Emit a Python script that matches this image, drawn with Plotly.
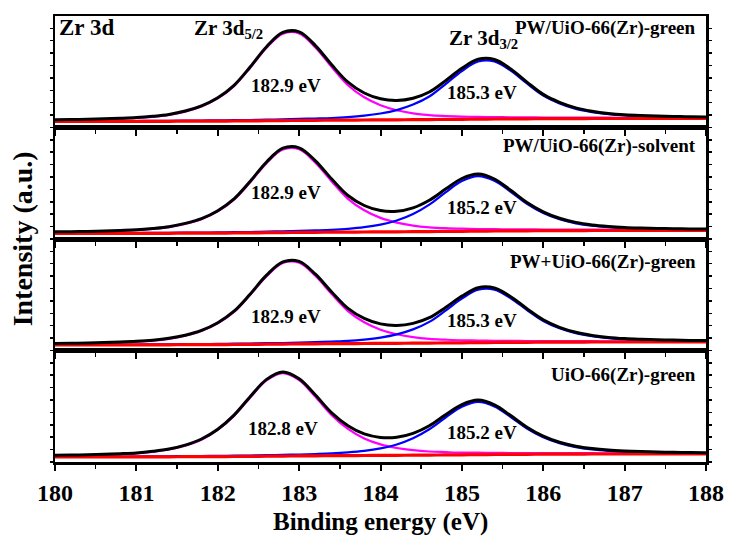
import plotly.graph_objects as go
from plotly.subplots import make_subplots

# ---------------- data ----------------
# binding-energy grid, eV
energy = [round(180 + 0.2 * i, 1) for i in range(41)]

sample_names = ["PW/UiO-66(Zr)-green", "PW/UiO-66(Zr)-solvent",
                "PW+UiO-66(Zr)-green", "UiO-66(Zr)-green"]
peak1_labels = ["182.9 eV", "182.9 eV", "182.9 eV", "182.8 eV"]
peak2_labels = ["185.3 eV", "185.2 eV", "185.3 eV", "185.2 eV"]
x_ticks = [180, 181, 182, 183, 184, 185, 186, 187, 188]
x_tick_labels = ["180", "181", "182", "183", "184", "185", "186", "187", "188"]

# Shirley-type background (a.u.)
background_1 = [6.0, 6.0, 6.0, 6.1, 6.1, 6.1, 6.2, 6.2, 6.3, 6.3, 6.4, 6.5, 6.6, 6.8,
                6.9, 7.1, 7.2, 7.3, 7.4, 7.5, 7.6, 7.7, 7.8, 7.9, 8.1, 8.2, 8.4, 8.5,
                8.6, 8.7, 8.8, 8.9, 8.9, 9.0, 9.0, 9.0, 9.0, 9.0, 9.0, 9.0, 9.0]
background_2 = [5.5, 5.5, 5.5, 5.6, 5.6, 5.6, 5.7, 5.7, 5.8, 5.8, 5.9, 6.0, 6.1, 6.3,
                6.4, 6.6, 6.7, 6.8, 6.9, 7.0, 7.1, 7.2, 7.3, 7.4, 7.6, 7.7, 7.9, 8.0,
                8.1, 8.2, 8.3, 8.4, 8.4, 8.5, 8.5, 8.5, 8.5, 8.5, 8.5, 8.5, 8.5]
background_3 = [5.5, 5.5, 5.5, 5.6, 5.6, 5.6, 5.7, 5.7, 5.8, 5.8, 5.9, 6.0, 6.1, 6.3,
                6.4, 6.6, 6.7, 6.8, 6.9, 7.0, 7.1, 7.2, 7.3, 7.4, 7.6, 7.7, 7.9, 8.0,
                8.1, 8.2, 8.3, 8.4, 8.4, 8.5, 8.5, 8.5, 8.5, 8.5, 8.5, 8.5, 8.5]
background_4 = [5.0, 5.0, 5.0, 5.1, 5.1, 5.1, 5.2, 5.2, 5.3, 5.3, 5.4, 5.5, 5.6, 5.8,
                5.9, 6.1, 6.2, 6.3, 6.4, 6.5, 6.6, 6.7, 6.8, 6.9, 7.1, 7.2, 7.4, 7.5,
                7.6, 7.7, 7.8, 7.9, 7.9, 8.0, 8.0, 8.0, 8.0, 8.0, 8.0, 8.0, 8.0]

# Zr 3d5/2 component above background (a.u.)
zr52_1 = [1.4, 1.6, 1.9, 2.2, 2.7, 3.4, 4.5, 6.4, 9.6, 14.7, 22.7, 34.9, 53.2, 72.9,
          87.0, 87.0, 72.9, 53.2, 34.9, 22.7, 14.7, 9.6, 6.4, 4.5, 3.4, 2.7, 2.2, 1.9,
          1.6, 1.4, 1.2, 1.1, 1.0, 0.9, 0.8, 0.7, 0.7, 0.6, 0.6, 0.5, 0.5]
zr52_2 = [1.4, 1.5, 1.8, 2.1, 2.6, 3.2, 4.3, 6.1, 9.2, 14.0, 21.7, 33.3, 50.8, 69.6,
          83.1, 83.1, 69.6, 50.8, 33.3, 21.7, 14.0, 9.2, 6.1, 4.3, 3.2, 2.6, 2.1, 1.8,
          1.5, 1.4, 1.2, 1.1, 0.9, 0.8, 0.8, 0.7, 0.6, 0.6, 0.5, 0.5, 0.5]
zr52_3 = [1.3, 1.5, 1.7, 2.1, 2.5, 3.2, 4.2, 6.0, 9.0, 13.7, 21.2, 32.5, 49.6, 68.0,
          81.1, 81.1, 68.0, 49.6, 32.5, 21.2, 13.7, 9.0, 6.0, 4.2, 3.2, 2.5, 2.1, 1.7,
          1.5, 1.3, 1.2, 1.0, 0.9, 0.8, 0.7, 0.7, 0.6, 0.6, 0.5, 0.5, 0.4]
zr52_4 = [1.4, 1.6, 1.9, 2.2, 2.8, 3.6, 5.0, 7.3, 11.0, 17.0, 26.7, 40.6, 59.0, 75.8,
          83.0, 75.8, 59.0, 40.6, 26.7, 17.0, 11.0, 7.3, 5.0, 3.6, 2.8, 2.2, 1.9, 1.6,
          1.4, 1.3, 1.1, 1.0, 0.9, 0.8, 0.7, 0.7, 0.6, 0.6, 0.5, 0.5, 0.4]

# Zr 3d3/2 component above background (a.u.)
zr32_1 = [0.3, 0.3, 0.3, 0.4, 0.4, 0.4, 0.5, 0.5, 0.6, 0.7, 0.7, 0.8, 0.9, 1.1,
          1.2, 1.5, 1.8, 2.2, 3.0, 4.3, 6.4, 9.7, 15.1, 23.1, 35.3, 48.3, 57.6, 57.6,
          48.3, 35.3, 23.1, 15.1, 9.7, 6.4, 4.3, 3.0, 2.2, 1.8, 1.5, 1.2, 1.1]
zr32_2 = [0.3, 0.3, 0.3, 0.4, 0.4, 0.4, 0.5, 0.5, 0.6, 0.6, 0.7, 0.8, 0.9, 1.1,
          1.3, 1.5, 1.9, 2.4, 3.3, 4.8, 7.3, 11.3, 17.7, 27.0, 39.1, 50.2, 55.0, 50.2,
          39.1, 27.0, 17.7, 11.3, 7.3, 4.8, 3.3, 2.4, 1.9, 1.5, 1.3, 1.1, 0.9]
zr32_3 = [0.3, 0.3, 0.3, 0.3, 0.4, 0.4, 0.4, 0.5, 0.5, 0.6, 0.7, 0.8, 0.9, 1.0,
          1.1, 1.4, 1.6, 2.1, 2.7, 3.9, 5.8, 8.9, 13.8, 21.2, 32.3, 44.2, 52.8, 52.8,
          44.2, 32.3, 21.2, 13.8, 8.9, 5.8, 3.9, 2.7, 2.1, 1.6, 1.4, 1.1, 1.0]
zr32_4 = [0.3, 0.3, 0.3, 0.4, 0.4, 0.4, 0.5, 0.5, 0.6, 0.7, 0.7, 0.8, 0.9, 1.0,
          1.2, 1.4, 1.8, 2.3, 3.2, 4.6, 7.0, 10.8, 16.9, 25.8, 37.4, 48.0, 52.6, 48.0,
          37.4, 25.8, 16.9, 10.8, 7.0, 4.6, 3.2, 2.3, 1.8, 1.4, 1.2, 1.0, 0.9]

backgrounds = [background_1, background_2, background_3, background_4]
zr52 = [zr52_1, zr52_2, zr52_3, zr52_4]
zr32 = [zr32_1, zr32_2, zr32_3, zr32_4]

# ---------------- styling / layout ----------------
FONT = "Liberation Serif"
W, H = 736, 547
ML, MR, MT, MB = 55, 23, 16, 85
Y_TOP = 111.5
PLOT_W = W - ML - MR
PLOT_H = H - MT - MB


def bold(size):
    return dict(family=FONT, size=size, color="black", weight="bold")


# annotation placement per panel (x in eV, y in a.u.)
name_y = [99.5, 93.0, 88.5, 87.0]
lab1_pos = [(182.84, 42.5), (182.84, 47.0), (182.84, 34.5), (182.80, 34.0)]
lab2_pos = [(185.25, 35.5), (185.25, 32.0), (185.25, 30.5), (185.25, 30.0)]

fig = make_subplots(rows=4, cols=1, shared_xaxes=True, vertical_spacing=0)

for i in range(4):
    row = i + 1
    bg = backgrounds[i]
    c1 = [b + p for b, p in zip(bg, zr52[i])]
    c2 = [b + p for b, p in zip(bg, zr32[i])]
    env = [b + p + q for b, p, q in zip(bg, zr52[i], zr32[i])]
    fig.add_trace(go.Scatter(x=energy, y=c1, mode="lines",
                             line=dict(color="#FF00FF", width=2.2, shape="spline"),
                             showlegend=False, hoverinfo="skip"), row=row, col=1)
    fig.add_trace(go.Scatter(x=energy, y=c2, mode="lines",
                             line=dict(color="#0000FF", width=2.2, shape="spline"),
                             showlegend=False, hoverinfo="skip"), row=row, col=1)
    fig.add_trace(go.Scatter(x=energy, y=bg, mode="lines",
                             line=dict(color="#FF0000", width=3.2, shape="spline"),
                             showlegend=False, hoverinfo="skip"), row=row, col=1)
    fig.add_trace(go.Scatter(x=energy, y=env, mode="lines",
                             line=dict(color="#000000", width=3, shape="spline"),
                             showlegend=False, hoverinfo="skip"), row=row, col=1)

    xref = "x" if row == 1 else f"x{row}"
    yref = "y" if row == 1 else f"y{row}"
    fig.add_annotation(x=187.9, y=name_y[i], xref=xref, yref=yref, text=sample_names[i],
                       showarrow=False, xanchor="right", yanchor="middle", font=bold(19))
    fig.add_annotation(x=lab1_pos[i][0], y=lab1_pos[i][1], xref=xref, yref=yref,
                       text=peak1_labels[i], showarrow=False, xanchor="center",
                       yanchor="middle", font=bold(19))
    fig.add_annotation(x=lab2_pos[i][0], y=lab2_pos[i][1], xref=xref, yref=yref,
                       text=peak2_labels[i], showarrow=False, xanchor="center",
                       yanchor="middle", font=bold(19))

# panel-1 extra labels
fig.add_annotation(x=180.03, y=100.5, xref="x", yref="y", text="Zr 3d", showarrow=False,
                   xanchor="left", yanchor="middle", font=bold(23))
fig.add_annotation(x=181.68, y=99.0, xref="x", yref="y", text="Zr 3d<sub>5/2</sub>",
                   showarrow=False, xanchor="left", yanchor="middle", font=bold(21))
fig.add_annotation(x=184.82, y=89.0, xref="x", yref="y", text="Zr 3d<sub>3/2</sub>",
                   showarrow=False, xanchor="left", yanchor="middle", font=bold(21))

fig.update_xaxes(range=[180, 188], tickmode="array", tickvals=x_ticks,
                 ticktext=[f"<b>{t}</b>" for t in x_tick_labels],
                 ticks="outside", ticklen=6, tickwidth=2, ticklabelstandoff=2,
                 tickcolor="black", showline=True, linewidth=2.5, linecolor="black", mirror=True,
                 minor=dict(dtick=0.5, tick0=180, ticks="outside", ticklen=4, tickwidth=1.5,
                            tickcolor="black"),
                 showgrid=False, zeroline=False,
                 tickfont=dict(family=FONT, size=24, color="black"))
fig.update_xaxes(showticklabels=True, row=4, col=1)
fig.update_yaxes(range=[0, Y_TOP], showticklabels=False, ticks="outside", ticklen=3,
                 tickwidth=1.5, tickcolor="black", dtick=12.4, tick0=0, showline=True,
                 linewidth=2.5, linecolor="black", mirror="ticks", showgrid=False,
                 zeroline=False)

fig.add_annotation(x=0.5, y=-(522 - (H - MB)) / PLOT_H, xref="paper", yref="paper",
                   text="Binding energy (eV)", showarrow=False, xanchor="center",
                   yanchor="middle", font=bold(25))
fig.add_annotation(x=(22 - ML) / PLOT_W, y=0.5, xref="paper", yref="paper",
                   text="Intensity (a.u.)", textangle=-90, showarrow=False,
                   xanchor="center", yanchor="middle", font=bold(28))

fig.update_layout(width=W, height=H, margin=dict(l=ML, r=MR, t=MT, b=MB),
                  paper_bgcolor="white", plot_bgcolor="white", showlegend=False,
                  font=dict(family=FONT, color="black"))

fig.write_html("out.html", config={"displayModeBar": False, "staticPlot": True},
               post_script="document.body.style.margin='0px';"
                           "document.body.style.padding='0px';"
                           "document.body.style.overflow='hidden';")
